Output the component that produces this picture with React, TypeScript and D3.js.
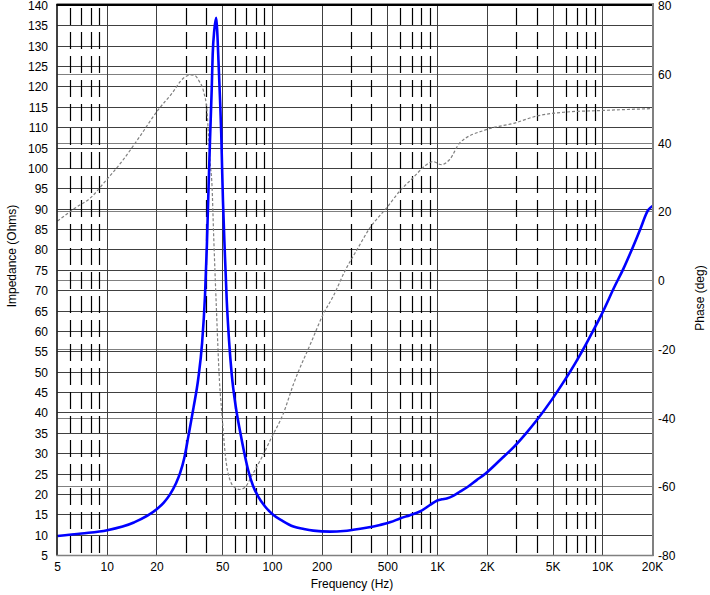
import React from "react";
import * as d3 from "d3";

// impedance curve (Hz, ohms)
const zFreq = [5, 7, 10, 14.5, 20, 22, 24, 26, 27.6, 29.3, 31, 33.3, 35.6, 37.5, 39.1, 40.1, 40.9, 41.9, 42.9, 43.5, 44.5, 45.7, 46.4, 47.3, 48.2, 49, 49.6, 50.2, 51.5, 52.9, 54.7, 56.7, 60, 63.7, 67.5, 71.5, 76.5, 82.2, 90, 101, 115, 134, 155, 177, 223, 270, 309, 370, 448, 520, 592, 680, 782, 900, 995, 1060, 1135, 1250, 1366, 1540, 1723, 1936, 2400, 2938, 3450, 3980, 4906, 5900, 6790, 7800, 8750, 9840, 11850, 13300, 14960, 16790, 18840, 20000];
const zOhms = [9.8, 10.4, 11.2, 13.1, 16.4, 18, 20, 22.6, 25.2, 29, 34.3, 41.3, 48.5, 57, 69, 81, 93, 107, 119.3, 128, 134, 137, 133.2, 125, 116.8, 108.6, 100, 92, 79.5, 67.7, 57.5, 49.5, 41.5, 35.5, 30.3, 25.8, 22, 19.4, 17.1, 15, 13.5, 12.1, 11.5, 11.1, 10.85, 11, 11.3, 11.8, 12.5, 13.2, 14.1, 14.9, 15.8, 17.4, 18.5, 18.8, 19, 19.7, 20.7, 22, 23.5, 25, 28.5, 31.9, 35.1, 38.2, 43.2, 48.1, 52.1, 56.4, 60.2, 64.2, 71.2, 75.3, 80, 84.9, 89.8, 90.8];

// phase curve (Hz, degrees)
const pFreq = [5, 6.4, 7.9, 9.75, 12.3, 15.8, 20, 24.7, 29, 32, 34, 36, 38.3, 40.2, 41, 41.9, 43.1, 44, 45.7, 47.8, 49.5, 51.8, 55.5, 59.5, 63.5, 68.4, 75, 86.2, 99, 116, 134, 173, 203, 234, 275, 330, 389, 491, 590, 711, 837, 939, 1054, 1184, 1361, 1973, 2926, 3953, 6010, 9115, 20000];
const pDeg = [17.3, 21.1, 24, 28.9, 34.7, 42, 49.2, 54.5, 58.9, 59.8, 59.6, 58, 55, 49.2, 42.5, 34.7, 27.5, 14.4, -6.9, -29.2, -38.9, -50.5, -58.2, -60.3, -60.8, -60.1, -56.8, -51.5, -45.6, -38.9, -30.2, -17.6, -9.8, -4.5, 2.8, 9.5, 15.3, 21.1, 26, 29.9, 33.3, 34.6, 33.7, 35.2, 40, 43.9, 45.8, 47.8, 49, 49.4, 50];

const zTicks = d3.range(5, 141, 5);
const pTicks = [80, 60, 40, 20, 0, -20, -40, -60, -80];
const fMajor = [10, 20, 50, 100, 200, 500, 1000, 2000, 5000, 10000];
const fMinor = [6, 7, 8, 9, 30, 40, 60, 70, 80, 90, 300, 400, 600, 700, 800, 900, 3000, 4000, 6000, 7000, 8000, 9000];
const fLabels = [
  [5, "5"], [10, "10"], [20, "20"], [50, "50"], [100, "100"], [200, "200"],
  [500, "500"], [1000, "1K"], [2000, "2K"], [5000, "5K"], [10000, "10K"], [20000, "20K"],
] as [number, string][];

const W = 710;
const H = 595;
const left = 57.5;
const right = 652.5;
const top = 5.5;
const bottom = 555.5;
const font = "'Liberation Sans', Arial, sans-serif";

export default function App() {
  const x = d3.scaleLog().domain([5, 20000]).range([left, right]);
  const yZ = d3.scaleLinear().domain([5, 140]).range([bottom, top]);
  const yP = d3.scaleLinear().domain([-80, 80]).range([bottom, top]);

  const zLine = d3
    .line<number>()
    .x((_, i) => x(zFreq[i]))
    .y((d) => yZ(d))
    .curve(d3.curveMonotoneX);
  const pLine = d3
    .line<number>()
    .x((_, i) => x(pFreq[i]))
    .y((d) => yP(d))
    .curve(d3.curveMonotoneX);

  const snap = (v: number) => Math.round(v - 0.5) + 0.5;

  return (
    <svg
      width={W}
      height={H}
      style={{ position: "absolute", left: 0, top: 0, background: "#fff" }}
      fontFamily={font}
      fontSize={12}
    >
      {/* impedance grid */}
      {zTicks.map((t) => (
        <line key={"z" + t} x1={left} x2={right} y1={snap(yZ(t))} y2={snap(yZ(t))} stroke="#404040" strokeWidth={1} />
      ))}
      {/* phase grid */}
      {pTicks.map((t) => (
        <line key={"p" + t} x1={left} x2={right} y1={snap(yP(t))} y2={snap(yP(t))} stroke="#808080" strokeWidth={1} />
      ))}
      {/* frequency grid */}
      {fMajor.map((f) => (
        <line key={"fm" + f} x1={snap(x(f))} x2={snap(x(f))} y1={top} y2={bottom} stroke="#404040" strokeWidth={1} />
      ))}
      {fMinor.map((f) => (
        <line
          key={"fn" + f}
          x1={snap(x(f))}
          x2={snap(x(f))}
          y1={top}
          y2={bottom}
          stroke="#000"
          strokeWidth={1.2}
          strokeDasharray="17 7"
          strokeDashoffset={21.5}
        />
      ))}

      {/* curves */}
      <path d={pLine(pDeg) || ""} fill="none" stroke="#808080" strokeWidth={1.2} strokeDasharray="3 2" />
      <path d={zLine(zOhms) || ""} fill="none" stroke="#0000ff" strokeWidth={2.6} />

      {/* frame */}
      <line x1={left - 1} x2={right} y1={3.5} y2={3.5} stroke="#909090" strokeWidth={1} />
      <line x1={left - 1} x2={right} y1={5} y2={5} stroke="#000" strokeWidth={2} />
      <line x1={left - 0.5} x2={left - 0.5} y1={4} y2={bottom} stroke="#000" strokeWidth={1.5} />
      <line x1={right + 0.5} x2={right + 0.5} y1={3} y2={bottom + 0.5} stroke="#808080" strokeWidth={2} />
      <line x1={left - 1} x2={right + 1} y1={bottom} y2={bottom} stroke="#808080" strokeWidth={1.5} />

      {/* left axis labels */}
      {zTicks.map((t) => (
        <text key={"zl" + t} x={48} y={yZ(t) + 4.5} textAnchor="end" fill="#000">
          {t}
        </text>
      ))}
      {/* right axis labels */}
      {pTicks.map((t) => (
        <text key={"pl" + t} x={658} y={yP(t) + 4.5} textAnchor="start" fill="#000">
          {t}
        </text>
      ))}
      {/* bottom axis labels */}
      {fLabels.map(([f, s]) => (
        <text key={"fl" + f} x={x(f)} y={571} textAnchor="middle" fill="#000">
          {s}
        </text>
      ))}

      <text x={352} y={588} textAnchor="middle" fill="#000">
        Frequency (Hz)
      </text>
      <text transform="translate(16,256) rotate(-90)" textAnchor="middle" fill="#000">
        Impedance (Ohms)
      </text>
      <text transform="translate(704,298) rotate(-90)" textAnchor="middle" fill="#000">
        Phase (deg)
      </text>
    </svg>
  );
}
